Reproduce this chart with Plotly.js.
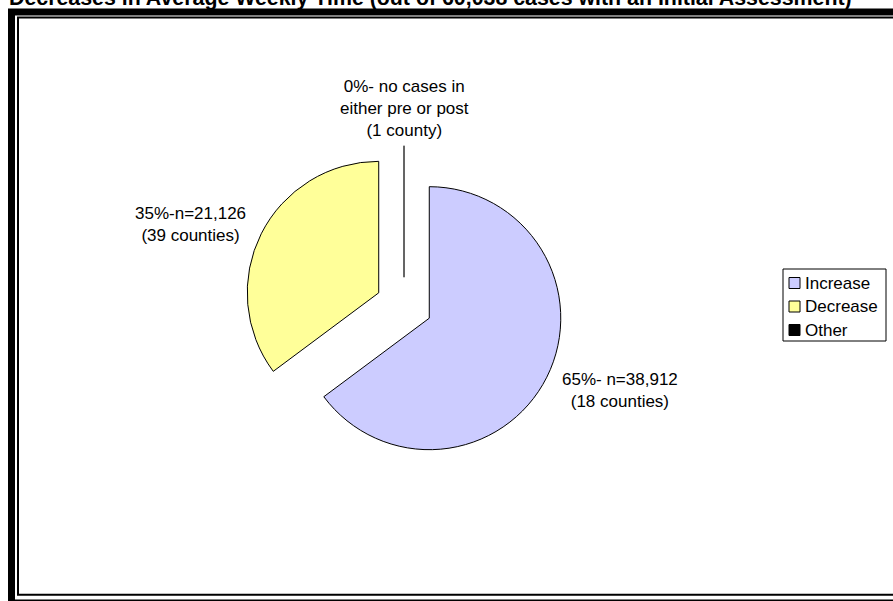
<!DOCTYPE html>
<html>
<head>
<meta charset="utf-8">
<script src="https://cdn.plot.ly/plotly-3.0.1.min.js"></script>
<style>
  html, body { margin: 0; padding: 0; background: #ffffff; }
  #chart { width: 893px; height: 601px; }
</style>
</head>
<body>
<div id="chart"></div>
<script>
// Outcome categories and their case counts
const categories = ['Increase', 'Decrease', 'Other'];
const caseCounts = [38912, 21126, 0];
const countyCounts = [18, 39, 1];
const sliceColors = ['#CCCCFF', '#FFFF99', '#000000'];
const sliceEdgeColors = ['#000000', '#000000', '#333333'];
const chartTitle = 'Decreases in Average Weekly Time (out of 60,038 cases with an Initial Assessment)';

const W = 893, H = 601;
const px = x => x / W;          // pixel -> paper x
const py = y => 1 - y / H;      // pixel -> paper y
const FONT = 'Liberation Sans, Arial, sans-serif';

const total = caseCounts.reduce((a, b) => a + b, 0);
const pct = caseCounts.map(v => Math.round(v / total * 100));
const fmt = v => v.toLocaleString('en-US');

const labelTexts = [
  `${pct[0]}%- n=${fmt(caseCounts[0])}<br>(${countyCounts[0]} counties)`,
  `${pct[1]}%-n=${fmt(caseCounts[1])}<br>(${countyCounts[1]} counties)`,
  `${pct[2]}%- no cases in<br>either pre or post<br>(${countyCounts[2]} county)`
];
const labelCenters = [[620, 390.5], [190.5, 224], [404, 108]];

// exploded pie: every slice pulled out by the same fraction
const pullFrac = 0.215;
const pieCx = 404, pieCy = 305.5, pieR = 131.5;
const half = pieR * (1 + pullFrac);

const pie = {
  type: 'pie',
  labels: categories,
  values: caseCounts,
  sort: false,
  direction: 'clockwise',
  rotation: 0,
  pull: categories.map(() => pullFrac),
  marker: { colors: sliceColors, line: { color: sliceEdgeColors, width: 1 } },
  textinfo: 'none',
  hoverinfo: 'none',
  showlegend: false,
  domain: { x: [px(pieCx - half), px(pieCx + half)], y: [py(pieCy + half), py(pieCy - half)] }
};

const annotations = [];
const shapes = [];

// slice labels
labelTexts.forEach((t, i) => {
  annotations.push({
    text: t, showarrow: false, xref: 'paper', yref: 'paper',
    x: px(labelCenters[i][0]), y: py(labelCenters[i][1]),
    xanchor: 'center', yanchor: 'middle', align: 'center',
    font: { family: FONT, size: 17, color: '#000000' }
  });
});

// title (runs off the top edge)
annotations.push({
  text: chartTitle, showarrow: false, xref: 'paper', yref: 'paper',
  x: px(7), y: py(-2), xanchor: 'left', yanchor: 'middle',
  font: { family: FONT, size: 21.35, color: '#000000', weight: 'bold' }
});

// outer heavy frame and inner thin frame
shapes.push({ type: 'rect', xref: 'paper', yref: 'paper', layer: 'below',
  x0: px(11.5), y0: py(12), x1: px(920), y1: py(603),
  line: { color: '#000000', width: 7 } });
shapes.push({ type: 'rect', xref: 'paper', yref: 'paper', layer: 'below',
  x0: px(18), y0: py(17.5), x1: px(915), y1: py(594.8),
  line: { color: '#000000', width: 2 } });

// legend box
const legL = 783, legT = 269, legR = 886, legB = 341;
shapes.push({ type: 'rect', xref: 'paper', yref: 'paper',
  x0: px(legL), y0: py(legT), x1: px(legR), y1: py(legB),
  line: { color: '#000000', width: 1 }, fillcolor: '#ffffff' });
categories.forEach((c, i) => {
  const cy = 283 + i * 23.5;
  shapes.push({ type: 'rect', xref: 'paper', yref: 'paper',
    x0: px(789), y0: py(cy - 5.5), x1: px(800), y1: py(cy + 5.5),
    line: { color: '#000000', width: 1 }, fillcolor: sliceColors[i] });
  annotations.push({
    text: c, showarrow: false, xref: 'paper', yref: 'paper',
    x: px(803), y: py(cy), xanchor: 'left', yanchor: 'middle',
    font: { family: FONT, size: 17, color: '#000000' }
  });
});

const layout = {
  width: W, height: H,
  margin: { l: 0, r: 0, t: 0, b: 0 },
  paper_bgcolor: '#ffffff',
  plot_bgcolor: '#ffffff',
  showlegend: false,
  annotations: annotations,
  shapes: shapes
};

Plotly.newPlot('chart', [pie], layout, { displayModeBar: false, staticPlot: true });
</script>
</body>
</html>
